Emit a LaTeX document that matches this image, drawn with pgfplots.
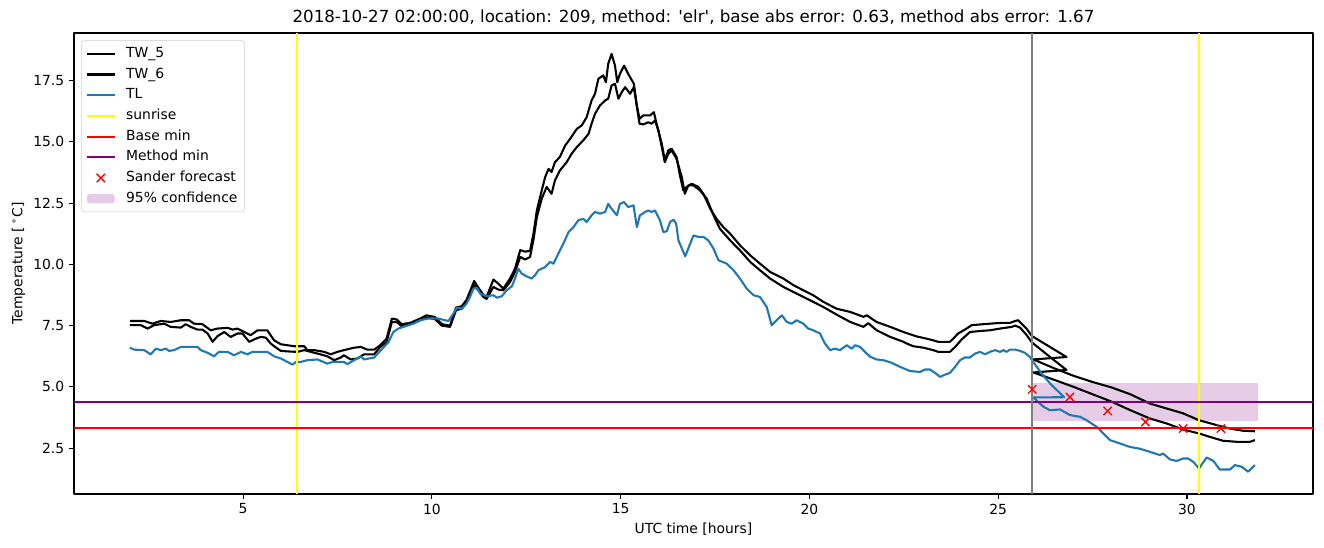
\documentclass[border=0pt]{standalone}
\usepackage{fontspec}
\setmainfont{DejaVu Sans}
\usepackage{pgfplots}
\pgfplotsset{compat=1.18}
\definecolor{tlblue}{HTML}{1F77B4}
\definecolor{mpurple}{rgb}{0.5,0,0.5}
\definecolor{myellow}{rgb}{1,1,0}
\definecolor{mred}{rgb}{1,0,0}
\pgfplotsset{
  leglineimg/.style={legend image code/.code={\draw[##1] (0pt,0pt) -- (20pt,0pt);}},
  legxmark/.style={legend image code/.code={\draw[##1] (7pt,-3pt) -- (13pt,3pt) (7pt,3pt) -- (13pt,-3pt);}},
  legpatch/.style={legend image code/.code={\fill[##1] (0pt,-3.4pt) rectangle (20pt,3.4pt);}},
}
\begin{document}
\fontsize{10}{12}\selectfont
\begin{tikzpicture}
\begin{axis}[
  scale only axis, width=892.1pt, height=331.9pt,
  xmin=0.52, xmax=33.34, ymin=0.63, ymax=19.44,
  xtick={5,10,15,20,25,30},
  ytick={2.5,5,7.5,10,12.5,15,17.5},
  yticklabel style={/pgf/number format/.cd, fixed, fixed zerofill, precision=1},
  /pgf/number format/assume math mode=true,
  tick align=outside, major tick length=3.5pt,
  tick style={line width=0.8pt, black},
  xtick pos=bottom, ytick pos=left,
  axis line style={line width=0.8pt},
  ticklabel style={font=\fontsize{10}{12}\selectfont},
  title={2018-10-27 02:00:00, location: 209, method: \textquotesingle elr\textquotesingle, base abs error: 0.63, method abs error: 1.67},
  every axis title shift/.style={yshift=0pt},
  title style={at={(rel axis cs:0.5,1)}, anchor=center, yshift=5.5pt, font=\fontsize{12}{14}\selectfont},
  xlabel={UTC time [hours]},
  xlabel style={at={(rel axis cs:0.5,0)}, anchor=center, yshift=-25.2pt},
  ylabel={Temperature [\,\textsuperscript{∘}C]},
  every axis y label/.style={at={(rel axis cs:0,0.5)}, rotate=90, anchor=center, yshift=40pt},
  legend style={at={(0.006,0.984)}, anchor=north west, draw=black!20, rounded corners=2pt,
    fill=white, fill opacity=0.8, text opacity=1, inner xsep=3pt, inner ysep=2pt,
    font=\fontsize{10}{12}\selectfont,
    nodes={text height=7.4pt, text depth=2.3pt, inner ysep=2.6pt},
    /tikz/every odd column/.append style={column sep=5.5pt}},
  legend cell align=left,
  line join=round,
]
% confidence band
\addplot[fill=mpurple, fill opacity=0.2, draw=none, forget plot] coordinates {(25.9,3.61) (31.87,3.61) (31.87,5.16) (25.9,5.16)} -- cycle;
% TW_5
\addplot[black, line width=1.5pt, forget plot] coordinates {
(2.0,7.69)(2.38,7.69)(2.60,7.58)(2.82,7.69)(3.08,7.65)(3.35,7.72)(3.57,7.72)(3.70,7.58)(3.92,7.56)(4.14,7.31)(4.32,7.38)(4.59,7.41)(4.72,7.34)(4.85,7.38)(5.03,7.24)(5.20,7.11)(5.38,7.31)(5.64,7.31)(5.82,6.90)(6.00,6.74)(6.35,6.66)(6.62,6.66)(6.70,6.50)(6.88,6.50)(7.15,6.43)(7.32,6.33)(7.50,6.43)(7.67,6.50)(7.94,6.60)(8.12,6.63)(8.29,6.52)(8.47,6.52)(8.63,6.70)(8.80,6.97)(8.94,7.79)(9.07,7.75)(9.20,7.56)(9.42,7.61)(9.69,7.79)(9.86,7.92)(10.08,7.85)(10.26,7.56)(10.48,7.50)(10.64,8.24)(10.79,8.29)(10.92,8.56)(11.12,9.32)(11.23,9.05)(11.36,8.77)(11.45,8.67)(11.63,9.38)(11.76,9.21)(11.89,9.01)(12.07,9.42)(12.20,9.82)(12.34,10.58)(12.47,10.52)(12.60,10.55)(12.69,11.25)(12.78,12.20)(12.91,13.02)(13.00,13.56)(13.09,13.90)(13.17,13.77)(13.26,14.17)(13.39,14.38)(13.53,14.85)(13.66,15.12)(13.84,15.53)(13.97,15.67)(14.10,16.01)(14.23,16.69)(14.32,16.96)(14.41,17.57)(14.54,17.71)(14.61,17.43)(14.67,18.18)(14.76,18.59)(14.85,18.11)(14.91,17.43)(14.98,17.77)(15.09,18.11)(15.20,17.77)(15.35,17.37)(15.43,16.48)(15.50,15.94)(15.60,16.08)(15.78,16.08)(15.88,16.21)(15.95,15.74)(16.09,14.92)(16.17,14.24)(16.26,14.65)(16.35,14.72)(16.48,14.38)(16.57,13.63)(16.66,13.02)(16.75,13.16)(16.88,13.29)(17.06,13.16)(17.19,12.88)(17.37,12.28)(17.54,11.86)(17.72,11.52)(17.90,11.25)(18.16,10.78)(18.43,10.37)(18.69,10.03)(18.96,9.69)(19.31,9.42)(19.58,9.15)(19.84,8.94)(20.10,8.74)(20.37,8.47)(20.72,8.19)(21.08,8.06)(21.43,7.86)(21.52,7.92)(21.78,7.65)(22.14,7.45)(22.49,7.24)(22.84,7.06)(23.10,6.97)(23.28,6.90)(23.41,6.84)(23.72,6.84)(23.81,6.97)(23.94,7.18)(24.12,7.34)(24.30,7.52)(24.78,7.58)(25.05,7.61)(25.31,7.61)(25.45,7.69)(25.53,7.72)(25.62,7.58)(25.75,7.38)(25.89,7.08)(26.35,6.65)(26.81,6.22)(25.93,6.12)(26.5,5.75)(27.0,5.45)(27.5,5.20)(28.0,4.98)(28.5,4.70)(29.02,4.32)(29.46,4.12)(29.90,3.92)(30.32,3.64)(30.79,3.44)(31.14,3.30)(31.49,3.21)(31.80,3.19)};
% TW_6
\addplot[black, line width=1.5pt, forget plot] coordinates {
(2.0,7.52)(2.29,7.52)(2.47,7.38)(2.64,7.52)(2.91,7.58)(3.08,7.45)(3.35,7.42)(3.48,7.56)(3.61,7.45)(3.79,7.34)(3.92,7.34)(4.06,7.18)(4.19,6.84)(4.32,7.07)(4.50,7.24)(4.67,7.04)(4.85,7.18)(4.98,7.18)(5.16,6.84)(5.34,6.97)(5.47,7.04)(5.60,7.01)(5.73,6.77)(5.91,6.56)(6.00,6.47)(6.26,6.44)(6.44,6.43)(6.62,6.50)(6.79,6.43)(6.97,6.36)(7.23,6.25)(7.41,6.09)(7.59,6.20)(7.67,6.29)(7.85,6.12)(8.03,6.16)(8.20,6.33)(8.47,6.33)(8.63,6.63)(8.80,6.83)(8.94,7.65)(9.07,7.65)(9.20,7.47)(9.42,7.56)(9.69,7.72)(9.86,7.83)(10.08,7.77)(10.26,7.50)(10.48,7.45)(10.64,8.13)(10.79,8.19)(10.92,8.47)(11.12,9.15)(11.23,8.94)(11.36,8.67)(11.45,8.59)(11.63,9.08)(11.76,8.97)(11.89,8.94)(12.07,9.28)(12.20,9.69)(12.34,10.30)(12.47,10.20)(12.60,10.30)(12.69,11.00)(12.78,11.93)(12.91,12.68)(13.04,13.16)(13.17,12.88)(13.26,13.43)(13.39,13.83)(13.57,14.17)(13.70,14.51)(13.84,14.79)(14.01,15.06)(14.15,15.33)(14.23,15.74)(14.32,16.14)(14.45,16.48)(14.59,16.69)(14.67,16.76)(14.76,17.30)(14.85,17.37)(14.94,16.76)(15.03,17.03)(15.12,17.23)(15.25,16.96)(15.35,17.23)(15.43,16.42)(15.50,15.74)(15.60,15.71)(15.73,15.80)(15.82,15.74)(15.91,15.87)(16.00,15.46)(16.09,14.79)(16.17,14.17)(16.26,14.51)(16.35,14.65)(16.48,14.31)(16.62,13.56)(16.70,12.88)(16.79,13.22)(16.93,13.22)(17.10,13.02)(17.28,12.68)(17.46,12.00)(17.63,11.45)(17.90,10.98)(18.16,10.57)(18.43,10.10)(18.69,9.76)(18.96,9.42)(19.31,9.08)(19.58,8.87)(19.84,8.67)(20.10,8.47)(20.37,8.26)(20.72,7.95)(21.08,7.65)(21.43,7.45)(21.56,7.60)(21.78,7.31)(22.14,7.04)(22.49,6.84)(22.58,6.77)(22.75,6.66)(23.02,6.60)(23.28,6.50)(23.41,6.43)(23.72,6.43)(23.86,6.63)(24.03,6.93)(24.25,7.24)(24.52,7.28)(24.78,7.31)(25.05,7.38)(25.36,7.45)(25.45,7.50)(25.58,7.42)(25.75,7.12)(25.89,6.82)(26.35,6.25)(26.81,5.69)(25.93,5.59)(26.5,5.28)(27.0,5.00)(27.5,4.70)(28.0,4.40)(28.5,4.05)(29.02,3.71)(29.46,3.51)(29.90,3.26)(30.32,3.10)(30.61,2.96)(30.96,2.80)(31.32,2.76)(31.67,2.76)(31.80,2.83)};
% TL
\addplot[tlblue, line width=1.5pt, forget plot] coordinates {
(2.0,6.60)(2.11,6.52)(2.38,6.50)(2.55,6.33)(2.69,6.56)(2.82,6.50)(2.95,6.56)(3.04,6.47)(3.17,6.50)(3.35,6.63)(3.79,6.63)(3.88,6.50)(4.06,6.39)(4.23,6.25)(4.36,6.43)(4.59,6.43)(4.76,6.29)(4.94,6.43)(5.11,6.33)(5.25,6.43)(5.64,6.43)(5.82,6.25)(6.00,6.16)(6.17,6.02)(6.31,5.91)(6.40,6.02)(6.53,6.02)(6.70,6.09)(6.97,6.12)(7.23,5.95)(7.37,6.02)(7.67,6.02)(7.76,5.93)(7.94,6.09)(8.12,6.25)(8.20,6.12)(8.47,6.20)(8.85,6.83)(8.98,7.24)(9.11,7.38)(9.29,7.47)(9.51,7.58)(9.69,7.72)(9.91,7.79)(10.17,7.79)(10.35,7.72)(10.44,7.69)(10.57,7.99)(10.66,8.23)(10.79,8.19)(10.92,8.40)(11.01,8.67)(11.10,9.01)(11.19,9.05)(11.28,8.81)(11.45,8.70)(11.63,8.74)(11.72,8.64)(11.85,8.70)(11.98,8.94)(12.12,9.11)(12.20,9.42)(12.29,9.82)(12.38,9.62)(12.51,9.51)(12.64,9.42)(12.73,9.55)(12.82,9.76)(13.00,9.89)(13.13,10.10)(13.22,10.03)(13.35,10.44)(13.48,10.84)(13.62,11.32)(13.75,11.52)(13.88,11.80)(14.01,11.86)(14.10,11.73)(14.23,12.00)(14.32,12.14)(14.45,12.07)(14.59,12.14)(14.67,12.47)(14.76,12.27)(14.90,12.00)(14.98,12.47)(15.09,12.54)(15.20,12.34)(15.34,12.41)(15.43,11.52)(15.51,12.00)(15.65,12.14)(15.73,12.20)(15.82,12.14)(15.91,12.20)(16.04,11.80)(16.13,11.32)(16.22,11.35)(16.31,11.73)(16.40,11.82)(16.47,11.66)(16.53,10.98)(16.71,10.33)(16.84,10.84)(16.93,11.18)(17.06,11.12)(17.19,11.12)(17.32,10.98)(17.46,10.64)(17.59,10.17)(17.81,10.03)(17.99,9.76)(18.16,9.42)(18.34,9.01)(18.52,8.74)(18.69,8.67)(18.87,8.26)(19.00,7.52)(19.13,7.72)(19.27,7.92)(19.40,7.65)(19.53,7.58)(19.66,7.72)(19.84,7.58)(19.97,7.38)(20.10,7.31)(20.28,7.18)(20.41,6.77)(20.55,6.50)(20.68,6.56)(20.81,6.50)(20.99,6.70)(21.12,6.56)(21.21,6.70)(21.34,6.63)(21.47,6.43)(21.61,6.23)(21.78,6.12)(21.96,6.09)(22.15,6.00)(22.40,5.82)(22.66,5.65)(22.93,5.61)(23.06,5.71)(23.19,5.71)(23.33,5.57)(23.46,5.41)(23.59,5.50)(23.72,5.57)(23.86,5.82)(23.99,6.09)(24.12,6.20)(24.25,6.20)(24.39,6.36)(24.52,6.43)(24.65,6.33)(24.78,6.43)(24.92,6.50)(25.05,6.43)(25.14,6.50)(25.22,6.43)(25.31,6.52)(25.45,6.52)(25.58,6.47)(25.71,6.39)(25.84,6.22)(25.93,6.02)(26.02,5.82)(26.20,5.45)(26.40,5.10)(26.60,4.80)(26.75,4.58)(25.93,4.57)(26.20,4.19)(26.37,4.05)(26.64,4.08)(26.90,3.85)(27.17,3.78)(27.34,3.64)(27.61,3.37)(27.96,2.83)(28.23,2.69)(28.49,2.55)(28.75,2.48)(29.02,2.35)(29.28,2.22)(29.37,2.28)(29.55,2.04)(29.73,1.98)(29.90,2.08)(30.03,2.08)(30.17,1.94)(30.32,1.67)(30.52,2.12)(30.70,1.98)(30.87,1.63)(31.14,1.63)(31.27,1.81)(31.45,1.74)(31.62,1.54)(31.80,1.81)};
% sunrise
\addplot[myellow, line width=1.5pt, forget plot] coordinates {(6.42,0.63) (6.42,19.44)};
\addplot[myellow, line width=1.5pt, forget plot] coordinates {(30.32,0.63) (30.32,19.44)};
% base min
\addplot[mred, line width=1.5pt, forget plot] coordinates {(0.52,3.34) (33.34,3.34)};
% method min
\addplot[mpurple, line width=1.5pt, forget plot] coordinates {(0.52,4.38) (33.34,4.38)};
% forecast time
\addplot[gray, line width=1.5pt, forget plot] coordinates {(25.9,0.63) (25.9,19.44)};
% Sander forecast
\addplot[mred, only marks, mark=x, mark size=4.2pt, mark options={line width=1pt}, forget plot] coordinates {(25.9,4.90) (26.9,4.59) (27.9,4.02) (28.9,3.57) (29.9,3.30) (30.9,3.30)};
% legend
\addlegendimage{black, line width=1.5pt, leglineimg}
\addlegendentry{TW\_5}
\addlegendimage{black, line width=1.5pt, leglineimg}
\addlegendentry{TW\_6}
\addlegendimage{tlblue, line width=1.5pt, leglineimg}
\addlegendentry{TL}
\addlegendimage{myellow, line width=1.5pt, leglineimg}
\addlegendentry{sunrise}
\addlegendimage{mred, line width=1.5pt, leglineimg}
\addlegendentry{Base min}
\addlegendimage{mpurple, line width=1.5pt, leglineimg}
\addlegendentry{Method min}
\addlegendimage{mred, line width=1pt, legxmark}
\addlegendentry{Sander forecast}
\addlegendimage{fill=mpurple, fill opacity=0.2, draw=none, legpatch}
\addlegendentry{95\% confidence}
\end{axis}
\pgfresetboundingbox
\path ([xshift=-53.28pt,yshift=-38.16pt]current axis.south west) rectangle ++(953.28pt,393.84pt);
\end{tikzpicture}
\end{document}
